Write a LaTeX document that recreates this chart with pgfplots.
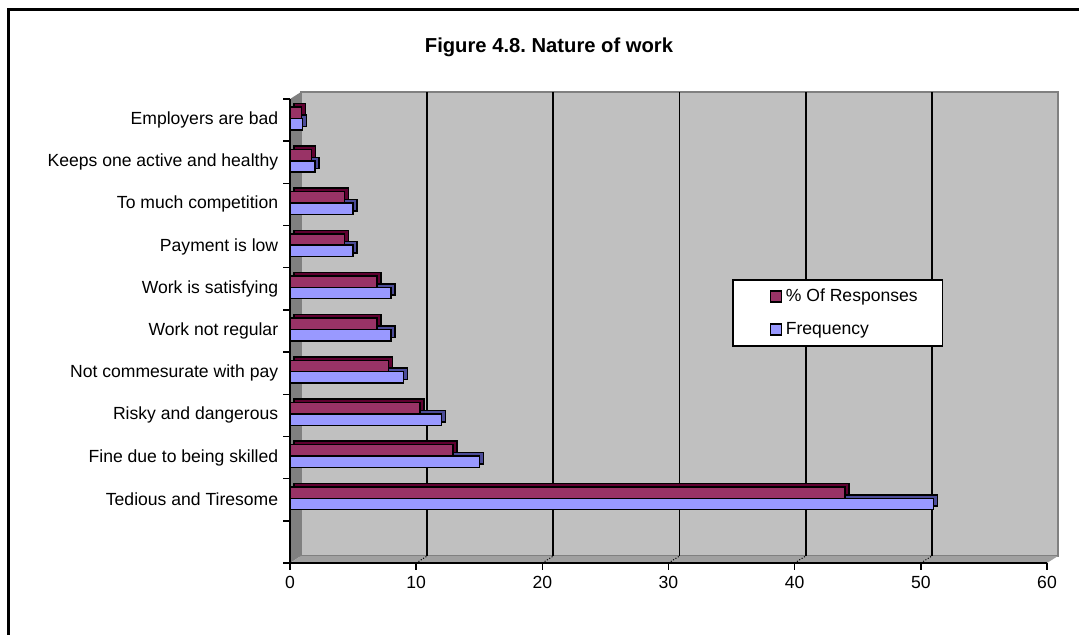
\documentclass[border=0pt]{standalone}
\usepackage{fontspec}
\setmainfont{Liberation Sans}
\usepackage{pgfplots}
\pgfplotsset{compat=1.18}

\definecolor{wallgray}{RGB}{192,192,192}
\definecolor{sidegray}{RGB}{128,128,128}
\definecolor{floorgray}{RGB}{160,160,160}
\definecolor{resp}{RGB}{153,51,102}
\definecolor{respdark}{RGB}{96,0,48}
\definecolor{freq}{RGB}{153,153,255}
\definecolor{freqdark}{RGB}{76,76,153}

% offset of the back wall (3D depth)
\tikzset{back/.style={shift={(0.22cm,0.14cm)}}}

\begin{document}
\frenchspacing
\begin{tikzpicture}
\path[use as bounding box] (0cm,0cm) rectangle (21.58cm,-12.7cm);
\draw[line width=0.06cm] (0.18cm,-12.7cm) -- (0.18cm,-0.2cm) -- (21.58cm,-0.2cm);
\node[font=\bfseries\fontsize{11.5}{13}\selectfont] at (10.98cm,-0.94cm) {Figure 4.8. Nature of work};

\begin{axis}[
  at={(5.8cm,-11.26cm)}, anchor=south west,
  width=15.14cm, height=9.28cm, scale only axis,
  clip=false, axis on top,
  xmin=0, xmax=60, ymin=-0.5, ymax=10.5,
  axis x line*=bottom, axis y line*=left,
  axis line style={line width=0.03cm},
  tick align=outside, major tick length=0.13cm,
  tick style={black, line width=0.03cm},
  xtick={0,10,...,60},
  ytick={-0.5,0.5,...,10.5},
  yticklabels={{},{},Tedious and Tiresome,Fine due to being skilled,Risky and dangerous,Not commesurate with pay,Work not regular,Work is satisfying,Payment is low,To much competition,Keeps one active and healthy,Employers are bad},
  yticklabel style={yshift=-0.42cm, xshift=-0.1cm, inner sep=0pt},
  xticklabel style={inner sep=0pt, yshift=-0.12cm},
  ticklabel style={font=\fontsize{10}{12}\selectfont},
  /pgf/number format/assume math mode=true,
  bar width=0.27,
  reverse legend,
  legend style={at={(0.585,0.61)}, anchor=north west, draw=black, line width=0.03cm,
    fill=white, font=\fontsize{10}{12}\selectfont, inner xsep=0.43cm, inner ysep=0.11cm,
    row sep=0.22cm, cells={anchor=west}, outer sep=0pt},
  legend image code/.code={\path (-0.31cm,0); \draw[#1, line width=0.03cm] (0cm,-0.11cm) rectangle (0.22cm,0.11cm);},
]
% walls and floor
\fill[wallgray, draw=sidegray, line width=0.04cm] ([back]axis cs:0,-0.5) rectangle ([back]axis cs:60,10.5);
\fill[sidegray] (axis cs:0,-0.5) -- ([back]axis cs:0,-0.5) -- ([back]axis cs:0,10.5) -- (axis cs:0,10.5) -- cycle;
\fill[floorgray] (axis cs:0,-0.5) -- (axis cs:60,-0.5) -- ([back]axis cs:60,-0.5) -- ([back]axis cs:0,-0.5) -- cycle;
\pgfplotsinvokeforeach{10,20,30,40,50}{
  \draw[black, line width=0.035cm] ([back]axis cs:#1,-0.5) -- ([back]axis cs:#1,10.5);
  \draw[black, densely dotted, line width=0.02cm] (axis cs:#1,-0.5) -- ([back]axis cs:#1,-0.5);
}

% depth faces of the bars
\addplot[xbar, bar shift=-0.10, fill=freqdark, draw=black, line width=0.03cm, xshift=0.08cm, yshift=0.07cm, forget plot]
  coordinates {(51,1) (15,2) (12,3) (9,4) (8,5) (8,6) (5,7) (5,8) (2,9) (1,10)};
\addplot[xbar, bar shift=0.17, fill=respdark, draw=black, line width=0.03cm, xshift=0.08cm, yshift=0.07cm, forget plot]
  coordinates {(44.0,1) (12.9,2) (10.3,3) (7.8,4) (6.9,5) (6.9,6) (4.3,7) (4.3,8) (1.7,9) (0.9,10)};

% front faces
\addplot[xbar, bar shift=-0.10, fill=freq, draw=black, line width=0.03cm]
  coordinates {(51,1) (15,2) (12,3) (9,4) (8,5) (8,6) (5,7) (5,8) (2,9) (1,10)};
\addlegendentry{Frequency}
\addplot[xbar, bar shift=0.17, fill=resp, draw=black, line width=0.03cm]
  coordinates {(44.0,1) (12.9,2) (10.3,3) (7.8,4) (6.9,5) (6.9,6) (4.3,7) (4.3,8) (1.7,9) (0.9,10)};
\addlegendentry{\% Of Responses}
\end{axis}
\end{tikzpicture}
\end{document}
